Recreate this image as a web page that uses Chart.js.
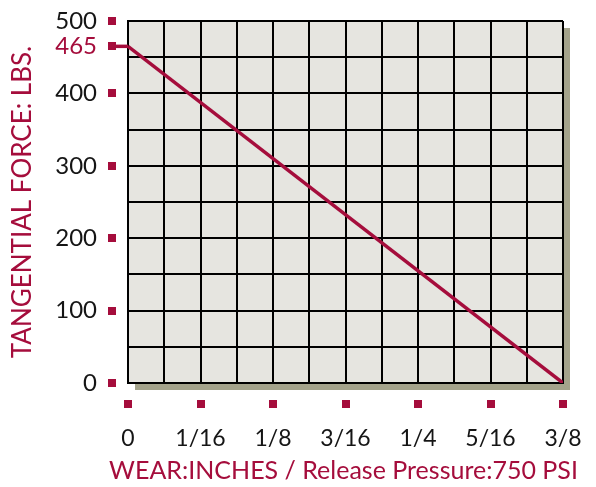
<!DOCTYPE html>
<html><head><meta charset="utf-8">
<script src="https://cdn.jsdelivr.net/npm/chart.js@4"></script>
<style>html,body{margin:0;padding:0;background:#fff}#wrap{width:596px;height:487px}</style>
</head><body><div id="wrap"><canvas id="c" width="596" height="487"></canvas></div>
<script>
const wearInches = [0, 0.375];
const forceLbs = [465, 0];
const xTickValues = [0, 1/16, 1/8, 3/16, 1/4, 5/16, 3/8];
const xTickLabels = ['0','1/16','1/8','3/16','1/4','5/16','3/8'];
const yTickValues = [0,100,200,300,400,500];
const yTickLabels = ['0','100','200','300','400','500'];
const startForce = 465;
const xTitle = 'WEAR:INCHES / Release Pressure:750 PSI';
const yTitle = 'TANGENTIAL FORCE: LBS.';

const RED = '#a50d3c';
const DARK = '#151515';
const FONT = 'Lato';

const deco = {
  id: 'deco',
  beforeDraw(chart) {
    const {ctx, chartArea: a} = chart;
    ctx.save();
    ctx.fillStyle = '#a4a38b';
    ctx.fillRect(a.left + 7, a.top + 7, a.right - a.left, a.bottom - a.top);
    ctx.fillStyle = '#e6e5e0';
    ctx.fillRect(a.left, a.top, a.right - a.left, a.bottom - a.top);
    ctx.restore();
  },
  afterDatasetsDraw(chart) {
    const {ctx, chartArea: a, scales: {x, y}} = chart;
    ctx.save();
    ctx.fillStyle = RED;
    const ys = yTickValues.concat([startForce]);
    ys.forEach(v => {
      const py = y.getPixelForValue(v);
      ctx.fillRect(a.left - 20, Math.round(py) - 4, 8, 8);
    });
    xTickValues.forEach(v => {
      const px = x.getPixelForValue(v);
      ctx.fillRect(Math.round(px) - 4, a.bottom + 17, 8, 8);
    });
    ctx.strokeStyle = RED;
    ctx.lineWidth = 3.5;
    const py = y.getPixelForValue(startForce);
    ctx.beginPath();
    ctx.moveTo(a.left - 14, py);
    ctx.lineTo(x.getPixelForValue(wearInches[0]), py);
    ctx.stroke();
    // x-axis title (drawn without the scale's width limit)
    ctx.fillStyle = RED;
    ctx.font = '25px ' + FONT;
    ctx.textAlign = 'center';
    ctx.textBaseline = 'middle';
    ctx.fillText(xTitle, (a.left + a.right) / 2 - 2, a.bottom + 88);
    ctx.restore();
  }
};

new Chart(document.getElementById('c'), {
  type: 'scatter',
  data: {
    datasets: [{
      data: wearInches.map((w, i) => ({x: w, y: forceLbs[i]})),
      showLine: true,
      borderColor: RED,
      borderWidth: 3.5,
      pointRadius: 0,
      tension: 0
    }]
  },
  options: {
    responsive: false,
    animation: false,
    devicePixelRatio: 1,
    layout: {padding: {left: 0, right: 33, top: 21, bottom: 0}},
    plugins: {legend: {display: false}, tooltip: {enabled: false}},
    scales: {
      x: {
        type: 'linear', min: 0, max: 0.375,
        afterFit(s) { s.height = 104; s.paddingLeft = 0; s.paddingRight = 0; },
        grid: {color: '#000', lineWidth: 2, drawTicks: false},
        border: {color: '#000', width: 2},
        ticks: {
          stepSize: 1/32, autoSkip: false, maxRotation: 0, padding: 42,
          color: DARK, font: {family: FONT, size: 23},
          callback(v) {
            const i = xTickValues.findIndex(t => Math.abs(t - v) < 1e-9);
            return i >= 0 ? xTickLabels[i] : '';
          }
        },
        title: {display: false}
      },
      y: {
        type: 'linear', min: 0, max: 500,
        afterFit(s) { s.width = 128; s.paddingTop = 0; s.paddingBottom = 0; },
        afterBuildTicks(s) {
          s.ticks.push({value: startForce});
          s.ticks.sort((a, b) => a.value - b.value);
        },
        grid: {
          color: c => (c.tick && c.tick.value === startForce) ? 'rgba(0,0,0,0)' : '#000',
          lineWidth: 2, drawTicks: false
        },
        border: {color: '#000', width: 2},
        ticks: {
          stepSize: 50, autoSkip: false, padding: 31,
          color: c => (c.tick && c.tick.value === startForce) ? RED : DARK,
          font: {family: FONT, size: 24},
          callback(v) {
            if (v === startForce) return String(startForce);
            const i = yTickValues.indexOf(v);
            return i >= 0 ? yTickLabels[i] : '';
          }
        },
        title: {display: true, text: yTitle, color: RED, font: {family: FONT, size: 26}, padding: {top: 7, bottom: 0}}
      }
    }
  },
  plugins: [deco]
});
</script></body></html>
